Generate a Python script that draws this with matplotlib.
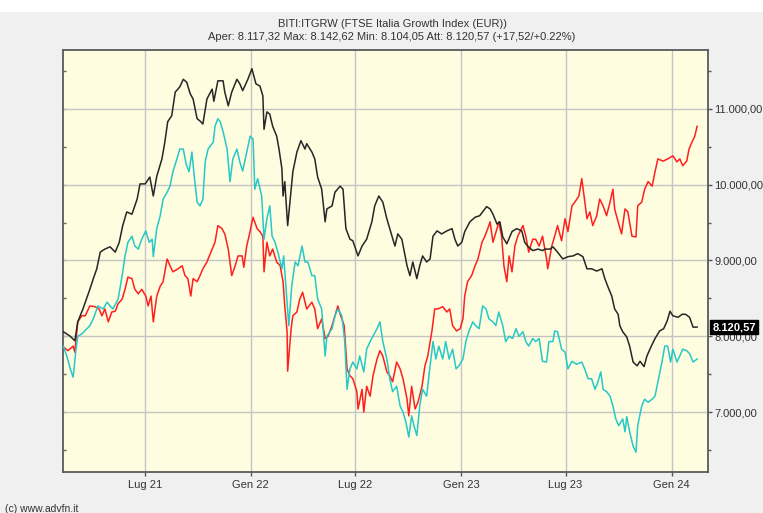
import matplotlib
matplotlib.use('Agg')
import matplotlib.pyplot as plt
import matplotlib.dates as mdates
import matplotlib.ticker as mticker
import pandas as pd

plt.rcParams['font.family'] = ['Liberation Sans', 'DejaVu Sans']

### chart text
title = 'BITI:ITGRW (FTSE Italia Growth Index (EUR))'
subtitle = 'Aper: 8.117,32 Max: 8.142,62 Min: 8.104,05 Att: 8.120,57 (+17,52/+0.22%)'
last_label = '8.120,57'
credit = '(c) www.advfn.it'

### data: days after 2021-02-10, index values
start = pd.Timestamp('2021-02-10')

black_days = [0, 12, 20, 25, 34, 46, 52, 58, 64, 72, 81, 90, 97, 103, 110, 119, 128, 133, 142, 150,
              156, 162, 171, 176, 181, 188, 194, 202, 208, 214, 220, 225, 232, 237, 242, 249, 258, 261,
              268, 277, 280, 286, 292, 301, 306, 311, 320, 327, 334, 341, 346, 348, 353, 358, 363, 370,
              374, 379, 381, 384, 389, 395, 398, 405, 412, 419, 422, 431, 436, 441, 448, 454, 457, 466,
              471, 480, 485, 490, 497, 502, 511, 518, 526, 535, 540, 547, 554, 561, 566, 575, 580, 587,
              596, 601, 606, 613, 618, 623, 630, 636, 641, 648, 656, 665, 674, 679, 684, 691, 696, 705,
              714, 722, 727, 734, 740, 745, 752, 757, 762, 769, 778, 786, 795, 800, 805, 814, 823, 831,
              835, 844, 849, 857, 866, 875, 884, 892, 901, 908, 916, 925, 934, 939, 944, 951, 956, 962,
              965, 970, 977, 982, 988, 995, 1000, 1007, 1012, 1019, 1026, 1034, 1041, 1047, 1052, 1057,
              1066, 1073, 1079, 1086, 1092, 1099]
black_vals = [8060, 8000, 7940, 8190, 8360, 8620, 8760, 8890, 9110, 9150, 9180, 9110, 9240, 9460, 9640,
              9610, 9810, 10010, 10010, 10100, 9850, 10110, 10340, 10560, 10830, 10910, 11220, 11290,
              11390, 11350, 11200, 11130, 10870, 10840, 10800, 11130, 11260, 11100, 11370, 11370, 11220,
              11040, 11220, 11390, 11330, 11240, 11390, 11530, 11330, 11300, 11170, 10730, 10960, 10930,
              10770, 10640, 10470, 10210, 9850, 10040, 9460, 9940, 10170, 10430, 10580, 10470, 10540,
              10430, 10340, 10100, 9940, 9510, 9680, 9720, 9900, 9980, 9940, 9420, 9280, 9260, 9060,
              9190, 9280, 9510, 9720, 9850, 9770, 9550, 9420, 9190, 9350, 9280, 8930, 8800, 8980, 8760,
              8930, 9060, 8980, 9020, 9320, 9390, 9350, 9390, 9420, 9280, 9190, 9240, 9380, 9510, 9570,
              9590, 9640, 9710, 9680, 9610, 9480, 9510, 9310, 9220, 9380, 9420, 9390, 9240, 9190, 9130,
              9150, 9130, 9150, 9150, 9180, 9110, 9020, 9050, 9060, 9090, 9050, 8890, 8890, 8860, 8890,
              8760, 8660, 8530, 8360, 8290, 8140, 8060, 7990, 7870, 7660, 7610, 7670, 7600, 7740, 7860,
              7970, 8070, 8100, 8200, 8330, 8270, 8250, 8290, 8290, 8250, 8120, 8121]

red_days = [0, 8, 17, 20, 25, 32, 38, 46, 55, 62, 67, 72, 78, 84, 90, 95, 102, 107, 112, 119, 124, 130,
            136, 143, 147, 152, 156, 162, 168, 173, 180, 185, 190, 199, 206, 211, 216, 221, 225, 232,
            237, 242, 249, 258, 263, 268, 275, 280, 286, 292, 298, 303, 310, 313, 318, 322, 329, 336,
            341, 346, 348, 353, 358, 363, 370, 376, 381, 384, 388, 389, 395, 398, 405, 410, 415, 422,
            431, 436, 441, 448, 454, 459, 466, 471, 476, 481, 487, 492, 497, 502, 509, 511, 518, 521,
            526, 532, 537, 544, 549, 554, 561, 566, 571, 578, 584, 589, 596, 599, 604, 610, 615, 622,
            627, 632, 639, 644, 649, 658, 665, 670, 675, 682, 688, 693, 696, 701, 708, 714, 719, 726,
            731, 736, 740, 745, 752, 755, 760, 764, 769, 773, 778, 783, 788, 797, 802, 807, 814, 819,
            825, 831, 838, 840, 847, 852, 857, 864, 870, 875, 882, 887, 894, 899, 903, 908, 913, 918,
            925, 930, 936, 942, 948, 953, 956, 962, 968, 974, 979, 986, 993, 996, 1003, 1008, 1014,
            1021, 1026, 1031, 1040, 1048, 1057, 1064, 1069, 1074, 1081, 1085, 1090, 1095, 1099]
red_vals = [7860, 7810, 7870, 7790, 8190, 8270, 8270, 8400, 8390, 8360, 8270, 8360, 8190, 8320, 8330,
            8430, 8490, 8620, 8780, 8760, 8620, 8560, 8620, 8530, 8400, 8530, 8190, 8530, 8660, 8720,
            9020, 8930, 8850, 8890, 8930, 8800, 8760, 8530, 8760, 8720, 8800, 8890, 8980, 9150, 9240,
            9460, 9420, 9350, 9150, 8800, 8930, 9060, 9060, 8910, 9190, 9320, 9570, 9420, 9380, 9320,
            8850, 9240, 9060, 9150, 8980, 8930, 8720, 8400, 8060, 7540, 8100, 8270, 8320, 8490, 8580,
            8360, 8450, 8360, 8100, 8230, 7970, 8000, 8140, 8270, 8400, 8270, 8140, 7570, 7480, 7440,
            7270, 7040, 7300, 7000, 7340, 7210, 7480, 7700, 7810, 7740, 7530, 7480, 7400, 7660, 7570,
            7440, 7170, 6950, 7340, 7040, 7130, 7340, 7610, 7740, 8060, 8360, 8360, 8390, 8320, 8360,
            8140, 8070, 8100, 8230, 8530, 8720, 8800, 8930, 9020, 9240, 9320, 9420, 9510, 9240, 9420,
            9510, 9320, 8930, 8720, 9060, 8850, 9190, 9320, 9460, 9320, 9110, 9280, 9280, 9190, 9320,
            9020, 8890, 9190, 9320, 9460, 9260, 9550, 9380, 9720, 9770, 9850, 10080, 9850, 9550, 9640,
            9460, 9590, 9810, 9720, 9590, 9770, 9940, 9680, 9510, 9350, 9680, 9640, 9320, 9310, 9720,
            9770, 9940, 10040, 9980, 10170, 10340, 10310, 10340, 10380, 10300, 10340, 10250, 10310,
            10470, 10560, 10640, 10770]

cyan_days = [0, 6, 12, 17, 22, 25, 32, 41, 46, 52, 60, 69, 76, 81, 86, 95, 102, 107, 112, 119, 124, 130,
             136, 143, 149, 154, 156, 162, 168, 173, 180, 185, 190, 197, 202, 208, 213, 218, 223, 227,
             232, 237, 242, 246, 251, 260, 263, 268, 272, 277, 284, 289, 294, 301, 306, 311, 318, 324,
             329, 332, 337, 344, 348, 353, 358, 362, 367, 372, 379, 382, 388, 391, 396, 402, 407, 414,
             419, 424, 431, 436, 441, 448, 454, 457, 466, 471, 476, 483, 488, 492, 497, 502, 509, 514,
             521, 526, 532, 537, 544, 549, 554, 561, 566, 571, 578, 584, 589, 594, 599, 604, 608, 613,
             618, 623, 630, 636, 641, 646, 651, 658, 663, 669, 675, 681, 686, 693, 698, 703, 710, 715,
             721, 727, 733, 738, 745, 750, 755, 762, 767, 773, 779, 785, 790, 797, 802, 807, 814, 819,
             825, 831, 838, 842, 849, 852, 857, 864, 870, 875, 882, 890, 899, 904, 910, 916, 922, 927,
             932, 936, 942, 948, 953, 958, 963, 970, 974, 977, 982, 988, 993, 996, 1003, 1008, 1014,
             1021, 1026, 1031, 1038, 1043, 1048, 1053, 1057, 1064, 1069, 1074, 1081, 1086, 1092, 1099]
cyan_vals = [7870, 7740, 7570, 7460, 7830, 8000, 8030, 8100, 8140, 8230, 8400, 8360, 8450, 8400, 8360,
             8490, 8800, 9060, 9240, 9320, 9190, 9150, 9280, 9390, 9240, 9280, 9050, 9420, 9590, 9810,
             9900, 9980, 10170, 10340, 10470, 10470, 10270, 10170, 10430, 10110, 9770, 9720, 9810,
             10300, 10470, 10560, 10770, 10870, 10830, 10700, 10470, 10040, 10340, 10470, 10300, 10180,
             10430, 10640, 10600, 9940, 10080, 9850, 9280, 9550, 9720, 9320, 9240, 9110, 8890, 9060,
             8450, 8140, 8660, 8980, 8930, 9190, 8980, 8980, 8800, 8800, 8490, 8360, 7740, 8000, 8100,
             8270, 8360, 8270, 7930, 7300, 7570, 7660, 7570, 7740, 7530, 7830, 7930, 8000, 8100, 8190,
             7930, 7700, 7440, 7270, 7340, 7080, 7000, 6870, 6670, 6950, 6820, 6690, 7080, 7300, 7210,
             7610, 7930, 7700, 7870, 7700, 7930, 7700, 7830, 7570, 7610, 7700, 7930, 8060, 8190, 8140,
             8100, 8400, 8360, 8230, 8190, 8140, 8320, 8140, 7930, 8000, 7970, 8100, 8000, 8060, 7930,
             7870, 7970, 7930, 7970, 7670, 7660, 7930, 7930, 8070, 8060, 7830, 7790, 7570, 7670, 7630,
             7660, 7570, 7440, 7440, 7300, 7400, 7530, 7300, 7270, 7210, 7080, 6910, 6820, 6910, 6740,
             6940, 6740, 6550, 6470, 6820, 7080, 7170, 7130, 7170, 7210, 7400, 7660, 7870, 7870, 7660,
             7830, 7660, 7740, 7830, 7810, 7770, 7660, 7700]

x_ticks = ['2021-07-01', '2022-01-01', '2022-07-01', '2023-01-01', '2023-07-01', '2024-01-01']
x_labels = ['Lug 21', 'Gen 22', 'Lug 22', 'Gen 23', 'Lug 23', 'Gen 24']
y_ticks = [7000, 8000, 9000, 10000, 11000]
x_range = ['2021-02-10', '2024-03-04']
y_range = [6210, 11776]


def to_dates(days):
    return start + pd.to_timedelta(days, unit='D')


def it_number(v, pos=None):
    s = f'{v:,.2f}'
    return s.replace(',', '#').replace('.', ',').replace('#', '.')


fig = plt.figure(figsize=(7.63, 5.13), dpi=100, facecolor='#f0f0f0')
ax = fig.add_axes([0.083, 0.080, 0.845, 0.8225], facecolor='#fefde0')

# white strip at the very top
fig.patches.append(plt.Rectangle((0, 0.977), 1, 0.03, transform=fig.transFigure,
                                 facecolor='white', edgecolor='none'))

ax.plot(to_dates(red_days), red_vals, color='#ff1f1f', lw=1.1, zorder=3)
ax.plot(to_dates(cyan_days), cyan_vals, color='#26c8c8', lw=1.1, zorder=3)
ax.plot(to_dates(black_days), black_vals, color='#262626', lw=1.1, zorder=4)

ax.set_xlim(pd.Timestamp(x_range[0]), pd.Timestamp(x_range[1]))
ax.set_ylim(*y_range)

ax.set_xticks(pd.to_datetime(x_ticks))
ax.set_xticklabels(x_labels)
ax.yaxis.tick_right()
ax.set_yticks(y_ticks)
ax.yaxis.set_major_formatter(mticker.FuncFormatter(it_number))
ax.yaxis.set_minor_locator(mticker.MultipleLocator(500))

ax.grid(True, which='major', color='#c4c4c4', lw=1.0, zorder=1)
ax.set_axisbelow(True)
ax.tick_params(axis='both', which='major', labelsize=8, colors='#555555', labelcolor='#333333',
               length=3, width=1)
ax.tick_params(axis='y', which='minor', length=2, width=1, colors='#555555')
ax.tick_params(axis='y', pad=1.5)
ax.tick_params(axis='x', pad=3)

# short inward ticks on the left edge
left = ax.secondary_yaxis('left')
left.set_yticks([v for v in range(6500, 12000, 500)])
left.tick_params(direction='in', length=2, width=1, colors='#666666', labelleft=False)
left.spines['left'].set_visible(False)

for side in ['left', 'right', 'top', 'bottom']:
    ax.spines[side].set_color('#5a5a5a')
    ax.spines[side].set_linewidth(1.3)

fig.text(0.514, 0.953, title, ha='center', va='center', fontsize=8, color='#333333')
fig.text(0.513, 0.927, subtitle, ha='center', va='center', fontsize=8, color='#333333')
fig.text(0.006, 0.008, credit, ha='left', va='center', fontsize=7.5, color='#333333')

ax.annotate(last_label, xy=(1, black_vals[-1]), xycoords=('axes fraction', 'data'),
            xytext=(3, 0), textcoords='offset points', ha='left', va='center',
            fontsize=8, fontweight='bold', color='white', annotation_clip=False, zorder=10,
            bbox=dict(boxstyle='square,pad=0.2', fc='black', ec='black'))

fig.savefig('out.png', dpi=100, facecolor=fig.get_facecolor())
